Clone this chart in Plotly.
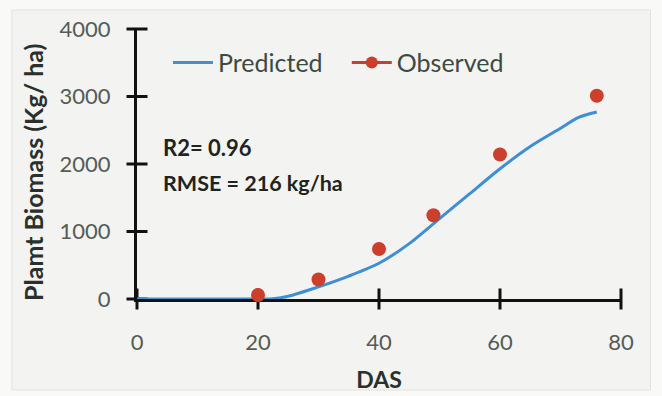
import plotly.graph_objects as go

# Data
pred_das = [0, 10, 20, 22, 25, 30, 35, 40, 45, 50, 55, 60, 65, 70, 73, 76]
pred_biomass = [0, 0, 0, 0, 40, 180, 340, 530, 820, 1190, 1560, 1930, 2260, 2530, 2690, 2770]
obs_das = [20, 30, 40, 49, 60, 76]
obs_biomass = [60, 290, 740, 1240, 2140, 3010]
x_ticks = [0, 20, 40, 60, 80]
y_ticks = [0, 1000, 2000, 3000, 4000]

BLUE = "#3f8fd6"
RED = "#cc3f2c"
AXIS = "#111111"
FONT = "Lato"

fig = go.Figure()
# cross-style tick marks (centred on the axis lines)
fig.add_trace(go.Scatter(
    x=x_ticks, y=[y_ticks[0]] * len(x_ticks), mode="markers", showlegend=False,
    hoverinfo="skip", cliponaxis=False,
    marker=dict(symbol="line-ns", size=15, line=dict(color=AXIS, width=3)),
))
fig.add_trace(go.Scatter(
    x=[x_ticks[0]] * len(y_ticks), y=y_ticks, mode="markers", showlegend=False,
    hoverinfo="skip", cliponaxis=False,
    marker=dict(symbol="line-ew", size=15, line=dict(color=AXIS, width=3)),
))
fig.add_trace(go.Scatter(
    x=pred_das, y=pred_biomass, mode="lines", name="Predicted   ",
    line=dict(color=BLUE, width=3, shape="spline", smoothing=0.8),
    cliponaxis=False,
))
fig.add_trace(go.Scatter(
    x=obs_das, y=obs_biomass, mode="markers", name="Observed",
    marker=dict(color=RED, size=14), showlegend=False, cliponaxis=False,
))
fig.add_trace(go.Scatter(
    x=[None], y=[None], mode="lines+markers", name="Observed",
    line=dict(color=RED, width=3), marker=dict(color=RED, size=12),
))

axis_common = dict(showgrid=False, zeroline=False, layer="below traces",
                   showline=True, linecolor=AXIS, linewidth=3, ticks="",
                   automargin=False)
fig.update_layout(
    width=662, height=396,
    margin=dict(l=137, r=41, t=29, b=97, autoexpand=False),
    paper_bgcolor="#f9f9f8", plot_bgcolor="rgba(0,0,0,0)",
    font=dict(family=FONT, size=22, color="#555b55"),
    showlegend=True,
    legend=dict(
        orientation="h", x=0.064, y=0.875, xanchor="left", yanchor="middle",
        bgcolor="rgba(0,0,0,0)", font=dict(size=25, color="#3c4a44"),
        itemwidth=40, tracegroupgap=0,
    ),
    xaxis=dict(
        range=[0, 80], tickvals=x_ticks,
        ticklabelstandoff=22, tickfont=dict(size=22, color="#555b55"),
        title=dict(text="<b>DAS</b>", font=dict(size=23, color="#2a302c"), standoff=18),
        **axis_common,
    ),
    yaxis=dict(
        range=[0, 4000], tickvals=y_ticks,
        ticklabelstandoff=19, tickfont=dict(size=22, color="#555b55"),
        **axis_common,
    ),
    shapes=[dict(type="rect", xref="paper", yref="paper", layer="below",
                 x0=-125/483.5, x1=(650-137)/483.5, y0=-(390-299)/270, y1=(299-10)/270,
                 line=dict(color="#e2e2e0", width=1), fillcolor="#f3f3f1")],
    annotations=[
        dict(text="<b>Plamt Biomass (Kg/ ha)</b>", xref="paper", yref="paper",
             x=(33-137)/483.5, y=(299-172)/270, xanchor="center", yanchor="middle",
             textangle=-90, showarrow=False, font=dict(size=25, color="#2a302c")),
        dict(text="<b>R2= 0.96</b>", xref="paper", yref="paper",
             x=(161-137)/483.5, y=(299-147)/270, xanchor="left", yanchor="middle",
             showarrow=False, font=dict(size=22, color="#1e2420")),
        dict(text="<b>RMSE = 216 kg/ha</b>", xref="paper", yref="paper",
             x=(161-137)/483.5, y=(299-183)/270, xanchor="left", yanchor="middle",
             showarrow=False, font=dict(size=21.5, color="#1e2420")),
    ],
)

fig.write_html("out.html")
